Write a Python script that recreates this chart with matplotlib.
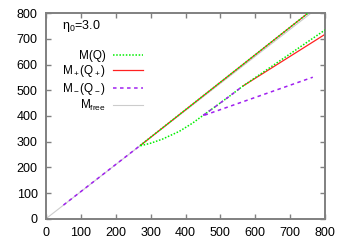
import numpy as np
import matplotlib
matplotlib.use("Agg")
import matplotlib.pyplot as plt

plt.rcParams['font.family'] = ['Liberation Sans', 'DejaVu Sans']
plt.rcParams['mathtext.fontset'] = 'custom'
plt.rcParams['mathtext.rm'] = 'Liberation Sans'
plt.rcParams['mathtext.it'] = 'Liberation Sans:italic'
plt.rcParams['mathtext.default'] = 'regular'

# M(Q): upper branch back to the cusp, then the lower curved branch
mq_q = [800, 268, 300, 334, 382, 420, 448, 487, 525, 565, 800]
mq_m = [853, 283, 294, 310, 340, 372, 400, 438, 476, 517, 735]

# M+(Q+): two branches (NaN gap between them)
mp_q = [272, 800, np.nan, 565, 800]
mp_m = [287, 853, np.nan, 517, 718]

# M-(Q-): low-Q part along the free line, then cusp piece
mm_q = [50, 268, np.nan, 556, 525, 487, 448, 765]
mm_m = [53, 283, np.nan, 508, 476, 438, 400, 551]

# M_free
mf_q = [0, 800]
mf_m = [0, 843]

labels = ["M(Q)", "M$_+$(Q$_+$)", "M$_-$(Q$_-$)", "M$_{free}$"]

fig = plt.figure(figsize=(3.46, 2.42), dpi=100)
ax = fig.add_axes([46/346, (242-218.7)/242, 279/346, 205.4/242])

l1, = ax.plot(mq_q, mq_m, color='#00ee00', lw=1.1, linestyle=(0, (1, 1.1)), zorder=3)
l2, = ax.plot(mp_q, mp_m, color='#ff2020', lw=0.9, zorder=2)
l3, = ax.plot(mm_q, mm_m, color='#a020f0', lw=1.1, linestyle=(0, (2.3, 2.3)), zorder=4)
l4, = ax.plot(mf_q, mf_m, color='#cccccc', lw=0.8, zorder=1)

ax.set_xlim(0, 800)
ax.set_ylim(0, 800)
ax.set_xticks(np.arange(0, 801, 100))
ax.set_yticks(np.arange(0, 801, 100))

for s in ax.spines.values():
    s.set_color('#808080')
    s.set_linewidth(1.4)
ax.tick_params(direction='in', length=3.5, width=1.0, color='#808080',
               top=True, right=True, labelsize=9, labelcolor='black')
ax.tick_params(axis='x', pad=6)
ax.tick_params(axis='y', pad=6)

fig.text(62/346, 1 - 29/242, "η$_0$=3.0", fontsize=9, ha='left', va='baseline')

leg = ax.legend([l1, l2, l3, l4], labels, loc='upper right',
                bbox_to_anchor=(0.347, 0.82), frameon=False, markerfirst=False,
                fontsize=8.5, handlelength=2.5, labelspacing=0.1,
                handletextpad=0.6, borderpad=0, borderaxespad=0)

fig.savefig("out.png", dpi=100)
